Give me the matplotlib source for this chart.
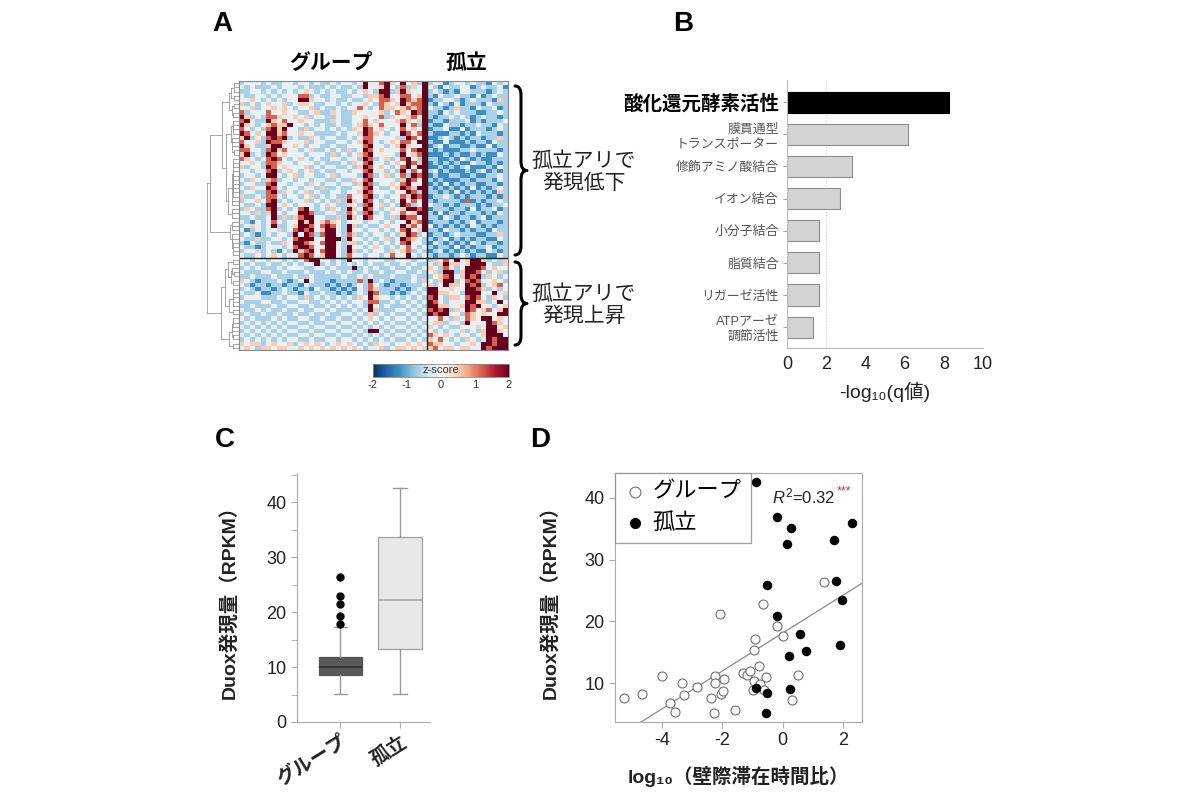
import numpy as np
import matplotlib
matplotlib.use('Agg')
import matplotlib.pyplot as plt
from matplotlib.path import Path
from matplotlib.patches import PathPatch

plt.rcParams['font.family'] = ['Liberation Sans', 'Noto Sans CJK JP', 'DejaVu Sans']
plt.rcParams['mathtext.fontset'] = 'custom'
plt.rcParams['mathtext.rm'] = 'Liberation Sans'
plt.rcParams['mathtext.it'] = 'Liberation Sans:italic'
plt.rcParams['mathtext.bf'] = 'Liberation Sans:bold'
plt.rcParams['axes.unicode_minus'] = False

# ---------------- Panel A data: heatmap (z-score levels, group 35 cols | isolated 15 cols)
heat_levels = {'0': -2.0, '1': -1.25, '2': -0.65, '3': -0.15, '4': 0.5, '5': 1.2, '6': 2.0}
heat_upper = [
    "23332 32233 23323 22323 32363 35643 63426 | 23312 33232 21323",
    "32322 23233 32322 23232 23263 34632 52436 | 32132 23312 32231",
    "22332 32323 23432 32322 32343 26624 64336 | 23212 13322 21232",
    "32233 23233 35523 22332 23324 45633 55346 | 21322 32213 12322",
    "33432 32323 36643 32322 32234 35543 65456 | 12233 21232 22142",
    "42323 43342 34432 23323 23343 25434 64556 | 21321 31222 13222",
    "33423 34343 23342 32232 33532 35443 45456 | 32212 42213 22312",
    "52333 53343 32234 22432 24333 34235 43656 | 22132 32221 12232",
    "64232 55433 43423 32232 23343 35243 34536 | 21223 23212 32212",
    "56322 64353 34332 22432 23353 43334 54346 | 12212 22312 12223",
    "64323 45446 33232 32232 23454 35333 63526 | 21132 21223 22132",
    "53232 56463 32423 32323 24365 34323 53436 | 12231 13122 21232",
    "65343 66453 34332 22232 33465 43233 65356 | 21112 21213 22212",
    "46232 56562 32243 23322 32355 33334 26536 | 11232 12122 12242",
    "53342 65543 33423 32233 23465 32343 55366 | 21131 11212 21322",
    "64322 46633 43233 22322 33356 33234 64336 | 12312 21121 13122",
    "55332 56453 32342 23232 42365 34333 53566 | 21211 12232 22212",
    "46232 65343 33233 32423 23456 33332 63456 | 11121 21121 21132",
    "54323 56532 34323 22332 33265 23423 56326 | 22112 13212 11222",
    "33432 55433 23332 32223 24356 33234 36546 | 12121 21132 21212",
    "42332 65343 33423 23322 32465 34323 56366 | 11212 12311 12132",
    "33233 56234 32342 32233 23356 33232 63536 | 23121 11212 31212",
    "23323 66323 42332 23423 33265 23423 52656 | 12112 21121 12232",
    "32432 45233 23323 32232 24356 33332 46536 | 21211 12212 22132",
    "23322 56332 33243 23323 32465 23343 56336 | 12131 21221 12212",
    "32433 65323 32332 42232 23356 32234 65466 | 21212 12131 21232",
    "23322 56243 23423 22332 33465 33323 36526 | 22121 31212 12142",
    "42232 55323 32342 32322 53356 23233 54656 | 12232 12122 21212",
    "23343 56232 33423 23242 64365 32323 63536 | 21222 21512 12232",
    "32232 66343 23332 34322 43256 34232 65236 | 32212 12221 21223",
    "24322 56232 35632 32432 64365 32343 46656 | 12221 22131 22312",
    "33242 46323 36652 23322 53256 23233 53466 | 21312 21222 12132",
    "22322 36242 45663 32242 64365 33242 65536 | 22132 12212 31222",
    "32132 35323 36463 45432 33323 32323 36456 | 12221 21231 22212",
    "23432 36223 46653 56532 64232 23433 64536 | 31212 12132 12122",
    "31232 33423 56563 46632 63323 32323 56346 | 22132 21212 21322",
    "23212 32332 63652 56632 54232 33232 46523 | 12212 32221 12242",
    "32242 23323 56663 36662 63323 23423 65432 | 21231 21212 21132",
    "21322 32243 66543 56632 44232 32323 56332 | 13212 12132 12212",
    "32212 33323 56653 36632 63323 43232 35323 | 21221 31212 23122",
    "23342 32132 64563 56632 64232 33243 45232 | 12312 12121 13212",
    "32232 34323 35653 46632 53323 32353 36323 | 21221 23212 21132",
]
heat_lower = [
    "33233 23323 23566 33232 63323 33223 33233 | 24353 63466 42324",
    "32322 32232 32336 23232 32323 22322 32322 | 32464 43466 63224",
    "23232 22323 33223 32322 26232 32232 23223 | 43253 23666 53433",
    "32223 32232 22322 23232 32232 23223 32232 | 34266 24665 32342",
    "22322 23222 32232 22223 22323 22232 22322 | 23456 34656 24323",
    "43212 22321 23632 22122 22526 23212 22324 | 32466 23565 33432",
    "32122 12212 21322 21212 12325 32122 12223 | 42364 43656 23453",
    "23212 21232 12213 22121 21325 42221 21232 | 66334 33665 42323",
    "32231 12232 21322 32212 12326 52212 12323 | 66443 32666 33634",
    "23332 22323 32423 23232 32436 43323 23232 | 56324 43565 32432",
    "32223 32232 23322 32323 23325 52232 32323 | 65323 33664 42363",
    "22322 23223 32232 23232 32326 32322 23232 | 66443 34656 33234",
    "32232 32232 23223 32322 23236 42223 32323 | 56562 43653 45346",
    "23223 22322 32232 23223 32324 23232 23232 | 65663 32543 43366",
    "32322 23232 23322 32232 23234 32323 32323 | 33532 43543 66343",
    "23232 32323 32232 23323 32323 23232 23232 | 34423 32633 36543",
    "32323 23232 23323 32232 23232 32323 32323 | 43232 23334 36634",
    "23232 32323 32232 23323 32326 63232 23232 | 32323 34232 46643",
    "32323 23232 23323 32232 23232 32323 32323 | 54343 23323 46663",
    "23232 32323 32232 23323 32323 23232 23232 | 43532 32432 36566",
    "43442 34334 23434 32343 43232 43323 34343 | 54433 23343 66566",
    "34324 43443 34343 43434 34323 34234 43434 | 45344 34433 65666",
]
heat_groups = ['グループ', '孤立']
n_group_cols = 35
zscore_ticks = [-2, -1, 0, 1, 2]

# ---------------- Panel B data
go_terms = ['酸化還元酵素活性', '膜貫通型\nトランスポーター', '修飾アミノ酸結合', 'イオン結合',
            '小分子結合', '脂質結合', 'リガーゼ活性', 'ATPアーゼ\n調節活性']
go_values = [8.27, 6.17, 3.3, 2.7, 1.63, 1.62, 1.62, 1.33]
go_highlight = [True, False, False, False, False, False, False, False]

# ---------------- Panel C data (box statistics)
box_labels = ['グループ', '孤立']
box_q1 = [8.5, 13.2]
box_med = [10.05, 22.2]
box_q3 = [11.8, 33.6]
box_whislo = [5.1, 5.1]
box_whishi = [17.2, 42.6]
box_fliers = [[17.8, 19.3, 21.4, 22.9, 26.3], []]

# ---------------- Panel D data
group_x = [-5.26, -4.66, -4.0, -3.72, -3.58, -3.34, -3.26, -2.84, -2.38, -2.29, -2.26, -2.24,
           -2.09, -2.04, -1.98, -1.96, -1.57, -1.30, -1.19, -1.08, -0.99, -0.94, -0.91, -0.94,
           -0.79, -0.75, -0.64, -0.62, -0.56, -0.20, 0.02, 0.30, 0.52, 1.37, -1.63]
group_y = [7.6, 8.26, 11.1, 6.7, 5.3, 10.0, 8.0, 9.35, 7.5, 5.2, 11.1, 10.0,
           21.2, 8.3, 8.7, 10.65, 5.55, 11.6, 11.25, 11.95, 8.8, 15.4, 17.1, 10.3,
           12.8, 9.8, 22.8, 8.9, 10.9, 19.3, 17.65, 7.3, 11.25, 26.3, 42.0]
iso_x = [-0.89, -0.20, 0.28, 0.13, 2.30, 1.71, 1.76, -0.51, 1.97, -0.20, 0.57, 1.89,
         0.77, 0.20, -0.90, -0.53, 0.24, -0.56]
iso_y = [42.55, 36.9, 35.1, 32.5, 35.9, 33.2, 26.6, 25.9, 23.5, 20.85, 18.0, 16.2,
         15.2, 14.3, 9.2, 8.4, 9.1, 5.1]
fit_slope = 3.07
fit_intercept = 18.1
r2_text = '0.32'
scatter_labels = ['グループ', '孤立']


def parse_rows(rows):
    out = []
    for r in rows:
        s = r.replace(' ', '').replace('|', '')
        s = (s + '3' * 50)[:50]
        out.append([heat_levels[c] for c in s])
    return np.array(out)


M_up = parse_rows(heat_upper)
M_lo = parse_rows(heat_lower)
M = np.vstack([M_up, M_lo])
n_up = len(M_up)
n_rows, n_cols = M.shape

fig = plt.figure(figsize=(12, 8), dpi=100)


def fx(px):
    return px / 1200.0


def fy(py):
    return 1 - py / 800.0


# ---------------- Heatmap
axh = fig.add_axes([fx(239), fy(350), fx(269), 269 / 800])
im = axh.imshow(M, cmap='RdBu_r', vmin=-2, vmax=2, aspect='auto', interpolation='nearest')
axh.set_xticks([])
axh.set_yticks([])
axh.axvline(n_group_cols - 0.5, color='#222222', lw=1.0)
axh.axhline(n_up - 0.5, color='#222222', lw=1.0)
for s in axh.spines.values():
    s.set_edgecolor('#888888')
    s.set_linewidth(0.8)


# ---------------- Dendrogram (adjacent-merge Ward clustering, keeps row order)
def adj_cluster(Mat, idx, segs):
    nodes = [(0.0, float(i), [i]) for i in idx]
    while len(nodes) > 1:
        ds = []
        for k in range(len(nodes) - 1):
            a = Mat[nodes[k][2]].mean(0)
            b = Mat[nodes[k + 1][2]].mean(0)
            n1, n2 = len(nodes[k][2]), len(nodes[k + 1][2])
            ds.append(np.linalg.norm(a - b) * np.sqrt(2.0 * n1 * n2 / (n1 + n2)))
        k = int(np.argmin(ds))
        h1, p1, m1 = nodes[k]
        h2, p2, m2 = nodes[k + 1]
        h = max(ds[k], h1, h2) + 0.05
        segs.append(((h1, p1), (h, p1)))
        segs.append(((h2, p2), (h, p2)))
        segs.append(((h, p1), (h, p2)))
        nodes[k:k + 2] = [(h, (p1 + p2) / 2, m1 + m2)]
    return nodes[0]


segs = []
rU = adj_cluster(M, list(range(n_up)), segs)
rL = adj_cluster(M, list(range(n_up, n_rows)), segs)
Htop = max(rU[0], rL[0]) * 1.12
segs.append(((rU[0], rU[1]), (Htop, rU[1])))
segs.append(((rL[0], rL[1]), (Htop, rL[1])))
segs.append(((Htop, rU[1]), (Htop, rL[1])))

axd = fig.add_axes([fx(206), fy(350), fx(33), 269 / 800])
for (x0, y0), (x1, y1) in segs:
    axd.plot([x0, x1], [y0, y1], color='#999999', lw=0.6)
axd.set_ylim(n_rows - 0.5, -0.5)
axd.set_xlim(Htop * 1.02, 0)
axd.axis('off')

# colorbar
cax = fig.add_axes([fx(373), fy(377), fx(136), 13 / 800])
cb = fig.colorbar(im, cax=cax, orientation='horizontal', ticks=zscore_ticks)
cb.ax.tick_params(length=0, labelsize=8, colors='#333333', pad=2)
cb.outline.set_edgecolor('#888888')
cb.outline.set_linewidth(0.6)
cax.text(0.5, 0.5, 'z-score', transform=cax.transAxes, ha='center', va='center',
         fontsize=8, color='#333333')

# ---------------- Panel B
axb = fig.add_axes([fx(787), fy(348), fx(196), 268 / 800])
pos = np.arange(len(go_terms))
face = ['black' if h else '#d4d4d4' for h in go_highlight]
edge = ['black' if h else '#8c8c8c' for h in go_highlight]
axb.barh(pos, go_values, height=0.66, color=face, edgecolor=edge, linewidth=0.8, zorder=2)
axb.axvline(2, color='#cfcfcf', ls=':', lw=0.8, zorder=0)
axb.set_xlim(0, 10)
axb.set_ylim(7.65, -0.69)
axb.set_yticks(pos)
axb.set_yticklabels(go_terms)
for lab, h in zip(axb.get_yticklabels(), go_highlight):
    if h:
        lab.set_fontsize(14)
        lab.set_fontweight('bold')
        lab.set_color('black')
    else:
        lab.set_fontsize(9.3)
        lab.set_color('#555555')
        lab.set_multialignment('right')
        lab.set_linespacing(1.2)
axb.set_xticks([0, 2, 4, 6, 8, 10])
axb.tick_params(axis='x', labelsize=13, colors='#222222', length=0, pad=6)
axb.tick_params(axis='y', length=3, color='#aaaaaa', pad=3)
for s in ['top', 'right']:
    axb.spines[s].set_visible(False)
for s in ['left', 'bottom']:
    axb.spines[s].set_color('#bbbbbb')
axb.set_xlabel('-log₁₀(q値)', fontsize=14, color='#222222', labelpad=6)

# ---------------- Panel C
axc = fig.add_axes([fx(297), fy(722), fx(133), 249 / 800])
stats = []
for i in range(2):
    stats.append({'med': box_med[i], 'q1': box_q1[i], 'q3': box_q3[i],
                  'whislo': box_whislo[i], 'whishi': box_whishi[i],
                  'fliers': box_fliers[i], 'label': box_labels[i]})
bp = axc.bxp(stats, positions=[1, 2], widths=0.72, patch_artist=True, capwidths=0.22,
             flierprops=dict(marker='o', markerfacecolor='black', markeredgecolor='black',
                             markersize=5))
box_face = ['#595959', '#e8e8e8']
box_edge = ['#555555', '#a0a0a0']
med_col = ['#2e2e2e', '#a8a8a8']
for i, b in enumerate(bp['boxes']):
    b.set_facecolor(box_face[i])
    b.set_edgecolor(box_edge[i])
    b.set_linewidth(0.9)
for i, m in enumerate(bp['medians']):
    m.set_color(med_col[i])
    m.set_linewidth(1.2)
for w in bp['whiskers'] + bp['caps']:
    w.set_color('#999999')
    w.set_linewidth(1.0)
axc.set_xlim(0.28, 2.5)
axc.set_ylim(0, 45.3)
axc.set_yticks([0, 10, 20, 30, 40])
axc.set_yticks([5, 15, 25, 35, 45], minor=True)
axc.tick_params(axis='y', which='both', labelsize=13, colors='#222222', direction='out',
                length=4, color='#aaaaaa')
axc.tick_params(axis='x', length=4, color='#aaaaaa')
axc.set_xticklabels(box_labels, rotation=32, ha='right', rotation_mode='anchor',
                    fontsize=14, fontweight='bold', color='#222222')
for s in ['top', 'right']:
    axc.spines[s].set_visible(False)
for s in ['left', 'bottom']:
    axc.spines[s].set_color('#aaaaaa')
axc.set_ylabel('Duox発現量（RPKM）', fontsize=14, fontweight='bold', color='#222222',
               labelpad=20)

# ---------------- Panel D
axs = fig.add_axes([fx(615), fy(722), fx(247), 249 / 800])
xlim = (-5.56, 2.63)
axs.set_xlim(*xlim)
axs.set_ylim(3.68, 44.05)
xl = np.array(xlim)
axs.plot(xl, fit_slope * xl + fit_intercept, color='#8a8a8a', lw=0.9, zorder=1)
axs.scatter(group_x, group_y, s=42, facecolors='white', edgecolors='#707070', linewidths=0.8,
            zorder=2, label=scatter_labels[0])
axs.scatter(iso_x, iso_y, s=34, facecolors='black', edgecolors='black', zorder=3,
            label=scatter_labels[1])
axs.set_xticks([-4, -2, 0, 2])
axs.set_yticks([10, 20, 30, 40])
axs.tick_params(labelsize=13, colors='#222222', length=4, color='#aaaaaa')
for s in axs.spines.values():
    s.set_color('#aaaaaa')
leg = axs.legend(loc='upper left', fontsize=16, frameon=True, fancybox=False,
                 borderaxespad=0.0, handletextpad=0.3, borderpad=0.4, labelspacing=0.45,
                 handlelength=1.0, markerscale=1.2)
leg.get_frame().set_edgecolor('#888888')
leg.get_frame().set_linewidth(0.9)
t = axs.text(0.635, 0.945, '$R^2$=' + r2_text, transform=axs.transAxes, fontsize=12,
             ha='left', va='top', color='#222222')
axs.annotate('***', xy=(1, 1), xycoords=t, xytext=(1, 1), textcoords='offset points',
             ha='left', va='top', fontsize=9, color='#e03030')
axs.set_ylabel('Duox発現量（RPKM）', fontsize=14, fontweight='bold', color='#222222',
               labelpad=18)
axs.set_xlabel('log₁₀（壁際滞在時間比）', fontsize=14, fontweight='bold', color='#222222',
               labelpad=12)

# ---------------- Overlay annotations (pixel coordinates)
ov = fig.add_axes([0, 0, 1, 1])
ov.set_xlim(0, 1200)
ov.set_ylim(800, 0)
ov.axis('off')
ov.patch.set_visible(False)

for letter, (x, y) in zip('ABCD', [(222, 24), (683, 24), (225, 440), (540, 440)]):
    ov.text(x, y, letter, fontsize=20, fontweight='bold', ha='center', va='center')

ov.text(331, 63, heat_groups[0], fontsize=15, fontweight='bold', ha='center', va='center')
ov.text(466, 63, heat_groups[1], fontsize=15, fontweight='bold', ha='center', va='center')


def brace(ax, x0, y0, y1, w, lw=2.2):
    mid = (y0 + y1) / 2.0
    r = 9
    xm = x0 + w / 2.0
    verts = [(x0, y0), (xm, y0), (xm, y0 + r),
             (xm, mid - r), (xm, mid), (x0 + w, mid),
             (xm, mid), (xm, mid + r),
             (xm, y1 - r), (xm, y1), (x0, y1)]
    codes = [Path.MOVETO, Path.CURVE3, Path.CURVE3,
             Path.LINETO, Path.CURVE3, Path.CURVE3,
             Path.CURVE3, Path.CURVE3,
             Path.LINETO, Path.CURVE3, Path.CURVE3]
    ax.add_patch(PathPatch(Path(verts, codes), fill=False, lw=lw, color='black',
                           capstyle='round', joinstyle='round'))


brace(ov, 515, 86, 255, 12)
brace(ov, 515, 262, 345, 12)
ov.text(584, 172, '孤立アリで\n発現低下', fontsize=15, ha='center', va='center',
        color='#222222', linespacing=1.15)
ov.text(584, 305, '孤立アリで\n発現上昇', fontsize=15, ha='center', va='center',
        color='#222222', linespacing=1.15)

fig.savefig('out.png', dpi=100)
